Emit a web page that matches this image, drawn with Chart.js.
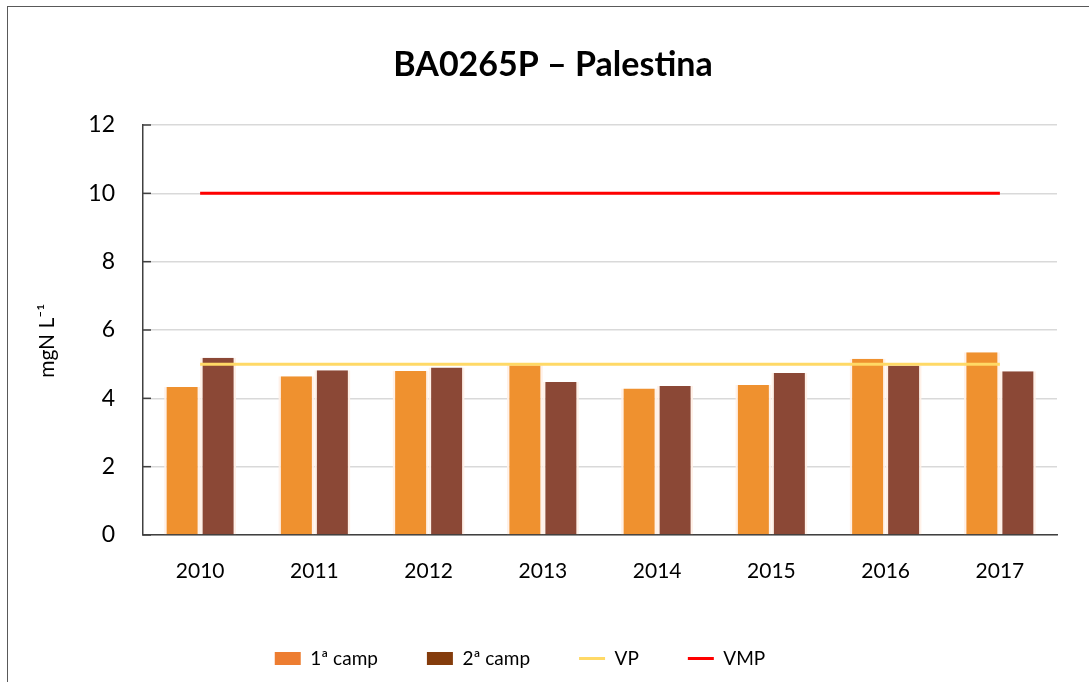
<!DOCTYPE html>
<html>
<head>
<meta charset="utf-8">
<script src="https://cdn.jsdelivr.net/npm/chart.js@4.4.0/dist/chart.umd.min.js"></script>
<style>
    html, body { margin: 0; padding: 0; background: #fff; overflow: hidden; }
    #frame {
        position: absolute;
        left: 7px;
        top: 6px;
        width: 1100px;
        height: 700px;
        border-left: 1.5px solid #595959;
        border-top: 1.5px solid #595959;
    }
    #chart-box { position: absolute; left: 0; top: 0; width: 1090px; height: 680px; }
</style>
</head>
<body>
<div id="frame">
    <div id="chart-box"><canvas id="chart"></canvas></div>
</div>
<script>
// Nitrate per campaign, station BA0265P
const years = ['2010', '2011', '2012', '2013', '2014', '2015', '2016', '2017'];
const camp1 = [4.33, 4.65, 4.80, 4.97, 4.29, 4.39, 5.16, 5.35];
const camp2 = [5.19, 4.82, 4.90, 4.48, 4.36, 4.74, 4.96, 4.79];
const vp = [5, 5, 5, 5, 5, 5, 5, 5];
const vmp = [10, 10, 10, 10, 10, 10, 10, 10];
const yTicks = [0, 2, 4, 6, 8, 10, 12];

const FONT = 'Lato, "Open Sans", sans-serif';

// legend swatch colours differ slightly from the bar fills in the original
const legendColors = ['#ED7D31', '#843C0C', '#FFD966', '#FF0000'];

// short dark tick marks drawn inside the plot on the value axis
const innerTicks = {
    id: 'innerTicks',
    beforeDatasetsDraw(chart) {
        const y = chart.scales.y;
        const ctx = chart.ctx;
        ctx.save();
        ctx.strokeStyle = '#404040';
        ctx.lineWidth = 1.5;
        yTicks.forEach(v => {
            const py = y.getPixelForValue(v);
            ctx.beginPath();
            ctx.moveTo(chart.chartArea.left, py);
            ctx.lineTo(chart.chartArea.left + 8, py);
            ctx.stroke();
        });
        ctx.restore();
    }
};

// legend in the original sits a bit left of centre
const shiftLegend = {
    id: 'shiftLegend',
    afterLayout(chart) {
        chart.legend.left -= 33;
        chart.legend.right -= 33;
    }
};

const ctx = document.getElementById('chart').getContext('2d');

const chart = new Chart(ctx, {
    type: 'bar',
    data: {
        labels: years,
        datasets: [
            {
                label: '1ª camp',
                data: camp1,
                backgroundColor: '#EF912F',
                borderColor: 'rgba(255, 240, 230, 0.9)',
                borderWidth: { left: 2.5, right: 2.5, top: 0, bottom: 0 },
                borderSkipped: false,
                categoryPercentage: 0.63,
                barPercentage: 1.0,
                order: 2
            },
            {
                label: '2ª camp',
                data: camp2,
                backgroundColor: '#8B4836',
                borderColor: 'rgba(255, 240, 230, 0.9)',
                borderWidth: { left: 2.5, right: 2.5, top: 0, bottom: 0 },
                borderSkipped: false,
                categoryPercentage: 0.63,
                barPercentage: 1.0,
                order: 2
            },
            {
                type: 'line',
                label: 'VP',
                data: vp,
                borderColor: '#FFD966',
                borderWidth: 3,
                pointRadius: 0,
                pointStyle: 'line',
                order: 1
            },
            {
                type: 'line',
                label: 'VMP',
                data: vmp,
                borderColor: '#FF0000',
                borderWidth: 3,
                pointRadius: 0,
                pointStyle: 'line',
                order: 0
            }
        ]
    },
    options: {
        responsive: true,
        maintainAspectRatio: false,
        animation: false,
        layout: {
            padding: { left: 41, right: 41, top: 0, bottom: 9 }
        },
        plugins: {
            title: {
                display: true,
                text: 'BA0265P – Palestina',
                color: '#000',
                font: { family: FONT, size: 34, weight: 'bold', lineHeight: 1.2 },
                padding: { top: 37.6, bottom: 39.6 }
            },
            legend: {
                position: 'bottom',
                labels: {
                    color: '#000',
                    font: { family: FONT, size: 19 },
                    usePointStyle: true,
                    pointStyleWidth: 26,
                    boxHeight: 13,
                    padding: 49,
                    generateLabels: function(chart) {
                        const items = Chart.defaults.plugins.legend.labels.generateLabels(chart);
                        items.sort((a, b) => a.datasetIndex - b.datasetIndex);
                        items.forEach(item => {
                            const c = legendColors[item.datasetIndex];
                            const isLine = item.datasetIndex >= 2;
                            item.pointStyle = isLine ? 'line' : 'rect';
                            item.fillStyle = c;
                            item.strokeStyle = c;
                            item.lineWidth = isLine ? 3 : 0;
                        });
                        return items;
                    }
                }
            },
            tooltip: { enabled: false }
        },
        scales: {
            x: {
                grid: { display: false, drawTicks: false },
                border: { display: true, color: '#404040', width: 1.5 },
                ticks: {
                    color: '#000',
                    font: { family: FONT, size: 21 },
                    padding: 24
                },
                afterFit: function(scale) {
                    scale.height = 65;
                }
            },
            y: {
                min: 0,
                max: 12,
                grid: { color: '#D9D9D9', lineWidth: 1.5, drawTicks: false },
                border: { display: true, color: '#404040', width: 1.5 },
                ticks: {
                    stepSize: 2,
                    color: '#000',
                    font: { family: FONT, size: 23 },
                    padding: 28
                },
                title: {
                    display: true,
                    text: 'mgN L⁻¹    ',
                    color: '#000',
                    font: { family: FONT, size: 21 },
                    padding: { top: -14, bottom: 0 }
                },
                afterFit: function(scale) {
                    scale.width = 94;
                }
            }
        }
    },
    plugins: [innerTicks, shiftLegend]
});
</script>
</body>
</html>
